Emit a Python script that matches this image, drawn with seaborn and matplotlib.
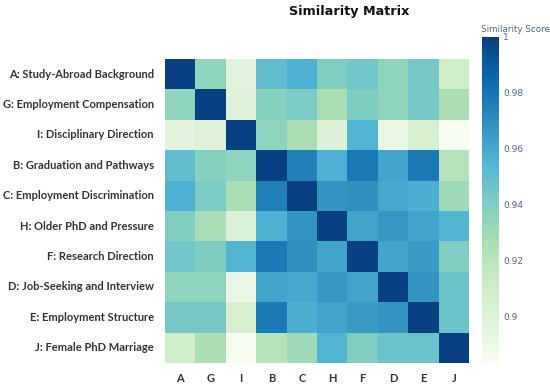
import numpy as np
import pandas as pd
import matplotlib
matplotlib.use("Agg")
import matplotlib.pyplot as plt
import seaborn as sns

codes = ["A", "G", "I", "B", "C", "H", "F", "D", "E", "J"]
row_labels = [
    "A: Study-Abroad Background",
    "G: Employment Compensation",
    "I: Disciplinary Direction",
    "B: Graduation and Pathways",
    "C: Employment Discrimination",
    "H: Older PhD and Pressure",
    "F: Research Direction",
    "D: Job-Seeking and Interview",
    "E: Employment Structure",
    "J: Female PhD Marriage",
]

row_A = [1.000, 0.935, 0.898, 0.950, 0.957, 0.940, 0.945, 0.935, 0.944, 0.910]
row_G = [0.935, 1.000, 0.900, 0.938, 0.942, 0.927, 0.941, 0.935, 0.944, 0.925]
row_I = [0.898, 0.900, 1.000, 0.936, 0.927, 0.902, 0.955, 0.893, 0.906, 0.8835]
row_B = [0.950, 0.938, 0.936, 1.000, 0.975, 0.957, 0.978, 0.961, 0.978, 0.922]
row_C = [0.957, 0.942, 0.927, 0.975, 1.000, 0.968, 0.969, 0.960, 0.958, 0.930]
row_H = [0.940, 0.927, 0.902, 0.957, 0.968, 1.000, 0.962, 0.966, 0.962, 0.955]
row_F = [0.945, 0.941, 0.955, 0.978, 0.969, 0.962, 1.000, 0.962, 0.965, 0.940]
row_D = [0.935, 0.935, 0.893, 0.961, 0.960, 0.966, 0.962, 1.000, 0.968, 0.947]
row_E = [0.944, 0.944, 0.906, 0.978, 0.958, 0.962, 0.965, 0.968, 1.000, 0.947]
row_J = [0.910, 0.925, 0.8835, 0.922, 0.930, 0.955, 0.940, 0.947, 0.947, 1.000]

cbar_ticks = [0.9, 0.92, 0.94, 0.96, 0.98, 1.0]
cbar_ticklabels = ["0.9", "0.92", "0.94", "0.96", "0.98", "1"]

data = pd.DataFrame(
    [row_A, row_G, row_I, row_B, row_C, row_H, row_F, row_D, row_E, row_J],
    index=row_labels, columns=codes,
)

W, H = 550, 386
fig = plt.figure(figsize=(W / 100, H / 100), dpi=100)
ax = fig.add_axes([165 / W, (H - 363) / H, 304 / W, 304 / H])
cax = fig.add_axes([482 / W, (H - 363) / H, 17 / W, 326 / H])

sns.heatmap(data, ax=ax, cmap="GnBu", vmin=data.values.min(), vmax=1.0,
            cbar_ax=cax, linewidths=0, square=False)

ax.tick_params(axis="both", length=0)
ax.tick_params(axis="y", pad=8)
ax.tick_params(axis="x", pad=7)
for t in ax.get_yticklabels():
    t.set_fontfamily("Lato")
    t.set_fontweight("bold")
    t.set_fontsize(8.0)
    t.set_color("#333333")
    t.set_rotation(0)
for t in ax.get_xticklabels():
    t.set_fontfamily("Lato")
    t.set_fontweight("bold")
    t.set_fontsize(8.0)
    t.set_color("#333333")
    t.set_rotation(0)
ax.set_xlabel("")
ax.set_ylabel("")

cb = ax.collections[0].colorbar
cb.outline.set_visible(False)
cb.set_ticks(cbar_ticks)
cb.set_ticklabels(cbar_ticklabels)
cax.tick_params(length=0, pad=3, labelsize=6.5, labelcolor="#506784")
for t in cax.get_yticklabels():
    t.set_fontfamily("DejaVu Sans")

fig.text(481 / W, 1 - 29 / H, "Similarity Score", fontsize=6.3, color="#506784",
         ha="left", va="center", family="DejaVu Sans")
fig.text(349 / W, 1 - 11 / H, "Similarity Matrix", fontsize=9.2, fontweight="bold",
         color="#111111", ha="center", va="center", family="DejaVu Sans")

fig.savefig("out.png", dpi=100)
